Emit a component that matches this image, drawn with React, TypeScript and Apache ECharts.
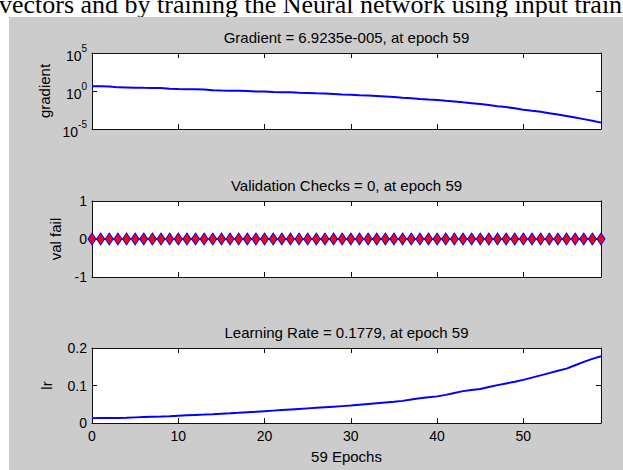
import React, { useEffect, useRef } from "react";
import * as echarts from "echarts";

const epochs = [
  0, 1, 2, 3, 4, 5, 6, 7, 8, 9, 10, 11, 12, 13, 14, 15, 16, 17, 18, 19,
  20, 21, 22, 23, 24, 25, 26, 27, 28, 29, 30, 31, 32, 33, 34, 35, 36, 37, 38, 39,
  40, 41, 42, 43, 44, 45, 46, 47, 48, 49, 50, 51, 52, 53, 54, 55, 56, 57, 58, 59,
];

const gradient = [
  4.2, 4.1, 4.0, 3.0, 2.9, 2.75, 2.6, 2.5, 2.4, 2.0,
  1.86, 1.74, 1.66, 1.58, 1.26, 1.17, 1.1, 1.05, 1.0, 0.89,
  0.83, 0.76, 0.71, 0.66, 0.6, 0.55, 0.5, 0.46, 0.4, 0.35,
  0.32, 0.28, 0.25, 0.22, 0.19, 0.16, 0.13, 0.11, 0.089, 0.076,
  0.066, 0.052, 0.042, 0.032, 0.025, 0.019, 0.014, 0.01, 0.0076, 0.0052,
  0.0035, 0.0025, 0.0018, 0.0012, 0.00079, 0.00052, 0.00033, 0.0002, 0.00012, 6.9235e-5,
];

const valFail = [
  0, 0, 0, 0, 0, 0, 0, 0, 0, 0, 0, 0, 0, 0, 0, 0, 0, 0, 0, 0,
  0, 0, 0, 0, 0, 0, 0, 0, 0, 0, 0, 0, 0, 0, 0, 0, 0, 0, 0, 0,
  0, 0, 0, 0, 0, 0, 0, 0, 0, 0, 0, 0, 0, 0, 0, 0, 0, 0, 0, 0,
];

const learningRate = [
  0.013, 0.0132, 0.0134, 0.0136, 0.014, 0.015, 0.0158, 0.0165, 0.0172, 0.018,
  0.0195, 0.0205, 0.0215, 0.0225, 0.0236, 0.0248, 0.026, 0.0273, 0.0287, 0.03,
  0.0315, 0.033, 0.0345, 0.036, 0.0375, 0.039, 0.0405, 0.042, 0.0435, 0.045,
  0.0465, 0.0485, 0.0505, 0.0525, 0.0545, 0.0565, 0.059, 0.0625, 0.066, 0.0685,
  0.071, 0.075, 0.08, 0.085, 0.088, 0.0905, 0.096, 0.101, 0.1055, 0.11,
  0.115, 0.121, 0.127, 0.133, 0.1395, 0.145, 0.154, 0.163, 0.171, 0.1779,
];

const xTicks = [0, 10, 20, 30, 40, 50];
const headerText = "vectors and by training the Neural network using input training";
const titles = [
  "Gradient = 6.9235e-005, at epoch 59",
  "Validation Checks = 0, at epoch 59",
  "Learning Rate = 0.1779, at epoch 59",
];
const yNames = ["gradient", "val fail", "lr"];
const xName = "59 Epochs";

const FONT = "Liberation Sans, Arial, sans-serif";

export default function App() {
  const ref = useRef<HTMLDivElement>(null);

  useEffect(() => {
    if (!ref.current) return;
    const chart = echarts.init(ref.current, null, { renderer: "svg" });

    const left = 92;
    const right = 22;
    const tops = [53, 201, 348];
    const heights = [76, 76, 75];
    const nameGaps = [39, 29, 38];
    const axisColor = "#111";

    const grids = tops.map((t, i) => ({
      left,
      right,
      top: t,
      height: heights[i],
      show: true,
      backgroundColor: "#ffffff",
      borderWidth: 0,
    }));

    const makeX = (i: number, pos: "bottom" | "top") => ({
      gridIndex: i,
      type: "value",
      min: 0,
      max: 59,
      interval: 10,
      position: pos,
      axisLine: { show: true, onZero: false, lineStyle: { color: axisColor, width: 1 } },
      axisTick: {
        show: true,
        inside: true,
        length: 5,
        customValues: xTicks,
        lineStyle: { color: axisColor },
      },
      axisLabel: {
        show: pos === "bottom" && i === 2,
        customValues: xTicks,
        fontSize: 14,
        fontFamily: FONT,
        color: "#000",
        margin: 6,
      },
      splitLine: { show: false },
      name: pos === "bottom" && i === 2 ? xName : "",
      nameLocation: "middle",
      nameGap: 26,
      nameTextStyle: { fontSize: 15, fontFamily: FONT, color: "#000" },
    });

    const yRange = [
      { type: "log", logBase: 100000, min: 0.00001, max: 100000 },
      { type: "value", min: -1, max: 1, interval: 1 },
      { type: "value", min: 0, max: 0.2, interval: 0.1 },
    ];

    const makeY = (i: number, pos: "left" | "right") => ({
      gridIndex: i,
      ...yRange[i],
      position: pos,
      axisLine: { show: true, onZero: false, lineStyle: { color: axisColor, width: 1 } },
      axisTick: { show: true, inside: true, length: 5, lineStyle: { color: axisColor } },
      axisLabel: {
        show: pos === "left",
        fontSize: 14,
        fontFamily: FONT,
        color: "#000",
        margin: 5,
        ...(i === 0
          ? {
              formatter: (v: number) => `{b|10}{s|${Math.round(Math.log10(v))}}`,
              rich: {
                b: { fontSize: 14, fontFamily: FONT, color: "#000", verticalAlign: "bottom", lineHeight: 20 },
                s: { fontSize: 10, fontFamily: FONT, color: "#000", verticalAlign: "top", lineHeight: 20 },
              },
            }
          : {}),
      },
      splitLine: { show: false },
      name: pos === "left" ? yNames[i] : "",
      nameLocation: "middle",
      nameGap: nameGaps[i],
      nameRotate: 90,
      nameTextStyle: { fontSize: 15, fontFamily: FONT, color: "#000" },
    });

    const xAxes = [0, 1, 2].map((i) => makeX(i, "bottom")).concat([0, 1, 2].map((i) => makeX(i, "top")));
    const yAxes = [0, 1, 2].map((i) => makeY(i, "left")).concat([0, 1, 2].map((i) => makeY(i, "right")));

    const titleGraphics = titles.map((t, i) => ({
      type: "text",
      x: left + (623 - left - right) / 2,
      y: tops[i] - 16,
      style: {
        text: t,
        font: `15px ${FONT}`,
        fill: "#000",
        align: "center",
        verticalAlign: "middle",
      },
    }));

    const option = {
      animation: false,
      backgroundColor: "#ffffff",
      grid: grids,
      xAxis: xAxes,
      yAxis: yAxes,
      graphic: [
        {
          type: "rect",
          z: -10,
          shape: { x: 9, y: 17, width: 614, height: 453 },
          style: { fill: "#cccccc" },
        },
        {
          type: "text",
          z: -20,
          x: -1,
          y: 17,
          style: {
            text: headerText,
            font: `26px "Liberation Serif", "Times New Roman", serif`,
            fill: "#000",
            align: "left",
            verticalAlign: "bottom",
          },
        },
        ...titleGraphics,
      ],
      series: [
        {
          type: "line",
          xAxisIndex: 0,
          yAxisIndex: 0,
          data: epochs.map((e, i) => [e, gradient[i]]),
          showSymbol: false,
          color: "#0000ff",
          lineStyle: { color: "#0000ff", width: 2 },
        },
        {
          type: "line",
          xAxisIndex: 1,
          yAxisIndex: 1,
          data: epochs.map((e, i) => [e, valFail[i]]),
          symbol: "diamond",
          symbolSize: [8, 12],
          showSymbol: true,
          clip: false,
          color: "#ff0000",
          itemStyle: { color: "#ff0000", borderColor: "#0000ff", borderWidth: 1 },
          lineStyle: { color: "#0000ff", width: 1.5 },
        },
        {
          type: "line",
          xAxisIndex: 2,
          yAxisIndex: 2,
          data: epochs.map((e, i) => [e, learningRate[i]]),
          showSymbol: false,
          color: "#0000ff",
          lineStyle: { color: "#0000ff", width: 2 },
        },
      ],
    };

    chart.setOption(option as any);
    return () => chart.dispose();
  }, []);

  return (
    <div
      ref={ref}
      style={{ position: "absolute", left: 0, top: 0, width: 623, height: 470 }}
    />
  );
}
